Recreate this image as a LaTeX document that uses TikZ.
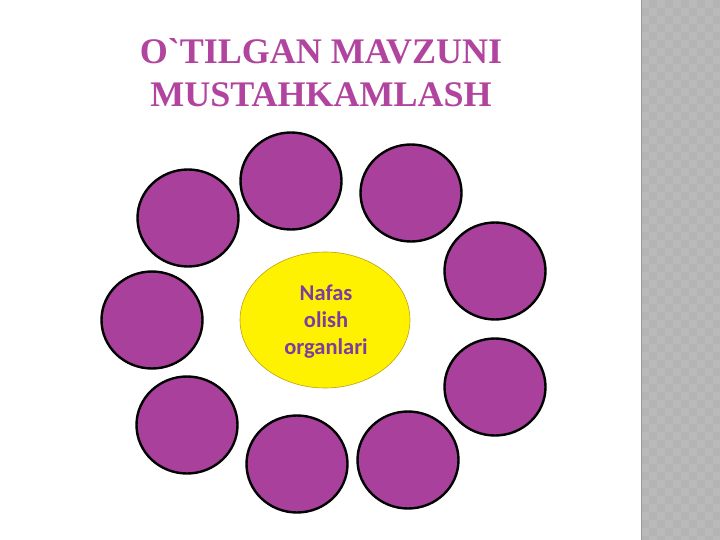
\documentclass[tikz,border=0pt]{standalone}
\usepackage{fontspec}
\setmainfont{Liberation Serif}[Ligatures=TeXOff]
\newfontfamily\calfont{Carlito}
\usetikzlibrary{shapes.geometric}

\definecolor{titlepurple}{RGB}{176,68,158}
\definecolor{bubblepurple}{RGB}{168,64,156}
\definecolor{textpurple}{RGB}{123,61,160}
\definecolor{stripgray}{RGB}{186,186,186}
\definecolor{stripdark}{RGB}{180,180,180}

\tikzset{
  bubble/.style={ellipse, draw=black, line width=2.4pt, fill=bubblepurple,
    minimum width=101pt, minimum height=97pt, inner sep=0pt},
  centre/.style={ellipse, draw={rgb,255:red,190;green,160;blue,20}, line width=0.6pt,
    fill=yellow, minimum width=170pt, minimum height=136pt, inner sep=0pt},
  heading/.style={font=\bfseries\fontsize{36}{43}\selectfont, text=titlepurple, align=center}
}

\begin{document}
\begin{tikzpicture}[x=1pt,y=-1pt]
    \useasboundingbox (0,0) rectangle (720,540);
    \fill[white] (0,0) rectangle (720,540);

    % franja gris
    \fill[stripgray] (641,0) rectangle (720,540);
    \foreach \i in {0,...,9}
      \foreach \j in {0,...,67}
        {\pgfmathtruncatemacro{\k}{\i+\j}
         \ifodd\k\relax
           \fill[stripdark] (641+8*\i,8*\j) rectangle +(8,8);
         \fi}
    \draw[stripdark!85!black, line width=1pt] (641.5,0) -- (641.5,540);

    % titulo
    \node[heading] (title) at (321,73) {O`TILGAN MAVZUNI\\MUSTAHKAMLASH};

    % circulos
    \foreach \x/\y [count=\i] in {188/218, 291/181, 411/193, 495/271, 495/387,
                                  408/460, 297/464, 187/425, 152/320}
      \node[bubble] (c\i) at (\x,\y) {};

    % elipse central
    \node[centre] (core) at (325,320) {};
    \node[text=textpurple, align=center,
          font=\calfont\bfseries\fontsize{22.5}{27}\selectfont] (label) at (326,322)
          {Nafas\\olish\\organlari};

\end{tikzpicture}
\end{document}
